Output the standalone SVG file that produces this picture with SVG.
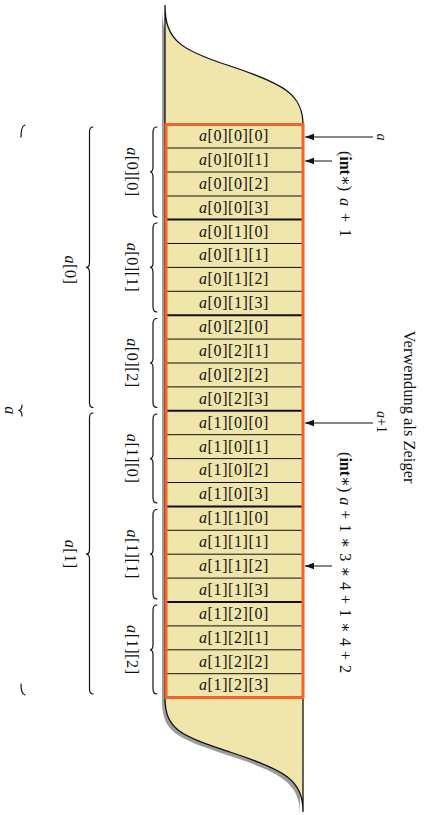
<svg xmlns="http://www.w3.org/2000/svg" width="429" height="815" viewBox="0 0 429 815">
<style>
text{font-family:"Liberation Serif","DejaVu Serif",serif;fill:#111}
.cell text{font-size:16px;letter-spacing:0.6px;text-anchor:middle}
.lbl{font-size:16px;letter-spacing:0.6px;text-anchor:middle}
.it{font-style:italic}
.bf{font-weight:bold}
.div{stroke:#111;stroke-width:1}
.gdiv{stroke:#111;stroke-width:2}
.brace{fill:none;stroke:#111;stroke-width:1.2;stroke-linecap:round}
.arr{stroke:#111;stroke-width:1}
</style>
<defs>
<marker id="ah" markerWidth="10" markerHeight="8" refX="9" refY="4" orient="auto" markerUnits="userSpaceOnUse">
<path d="M0,0.8 L9,4 L0,7.2 Z" fill="#111"/>
</marker>
<path id="body" d="M165,5 C165,40 180,50 230,66 C285,84 303,95 303,125 L303,812 C303,780 285,770 230,752 C180,735 165,730 165,697 Z"/>
</defs>
<g id="memory">
<use href="#body" transform="translate(-3,3)" fill="#9c9c9c"/>
<use href="#body" fill="#f0e5ab" stroke="#111" stroke-width="1.3"/>
</g>
<g id="cells">
<g class="cell" id="c0"><text x="234" y="141"><tspan class="it">a</tspan>[0][0][0]</text></g>
<g class="cell" id="c1"><text x="234" y="165"><tspan class="it">a</tspan>[0][0][1]</text></g>
<g class="cell" id="c2"><text x="234" y="189"><tspan class="it">a</tspan>[0][0][2]</text></g>
<g class="cell" id="c3"><text x="234" y="213"><tspan class="it">a</tspan>[0][0][3]</text></g>
<g class="cell" id="c4"><text x="234" y="237"><tspan class="it">a</tspan>[0][1][0]</text></g>
<g class="cell" id="c5"><text x="234" y="260"><tspan class="it">a</tspan>[0][1][1]</text></g>
<g class="cell" id="c6"><text x="234" y="284"><tspan class="it">a</tspan>[0][1][2]</text></g>
<g class="cell" id="c7"><text x="234" y="308"><tspan class="it">a</tspan>[0][1][3]</text></g>
<g class="cell" id="c8"><text x="234" y="332"><tspan class="it">a</tspan>[0][2][0]</text></g>
<g class="cell" id="c9"><text x="234" y="356"><tspan class="it">a</tspan>[0][2][1]</text></g>
<g class="cell" id="c10"><text x="234" y="380"><tspan class="it">a</tspan>[0][2][2]</text></g>
<g class="cell" id="c11"><text x="234" y="404"><tspan class="it">a</tspan>[0][2][3]</text></g>
<g class="cell" id="c12"><text x="234" y="428"><tspan class="it">a</tspan>[1][0][0]</text></g>
<g class="cell" id="c13"><text x="234" y="452"><tspan class="it">a</tspan>[1][0][1]</text></g>
<g class="cell" id="c14"><text x="234" y="475"><tspan class="it">a</tspan>[1][0][2]</text></g>
<g class="cell" id="c15"><text x="234" y="499"><tspan class="it">a</tspan>[1][0][3]</text></g>
<g class="cell" id="c16"><text x="234" y="523"><tspan class="it">a</tspan>[1][1][0]</text></g>
<g class="cell" id="c17"><text x="234" y="547"><tspan class="it">a</tspan>[1][1][1]</text></g>
<g class="cell" id="c18"><text x="234" y="571"><tspan class="it">a</tspan>[1][1][2]</text></g>
<g class="cell" id="c19"><text x="234" y="595"><tspan class="it">a</tspan>[1][1][3]</text></g>
<g class="cell" id="c20"><text x="234" y="619"><tspan class="it">a</tspan>[1][2][0]</text></g>
<g class="cell" id="c21"><text x="234" y="643"><tspan class="it">a</tspan>[1][2][1]</text></g>
<g class="cell" id="c22"><text x="234" y="667"><tspan class="it">a</tspan>[1][2][2]</text></g>
<g class="cell" id="c23"><text x="234" y="690"><tspan class="it">a</tspan>[1][2][3]</text></g>
</g>
<g id="dividers">
<line class="div" x1="166" y1="148" x2="302" y2="148"/>
<line class="div" x1="166" y1="172" x2="302" y2="172"/>
<line class="div" x1="166" y1="196" x2="302" y2="196"/>
<line class="gdiv" x1="166" y1="219.6" x2="302" y2="219.6"/>
<line class="div" x1="166" y1="243.5" x2="302" y2="243.5"/>
<line class="div" x1="166" y1="267.4" x2="302" y2="267.4"/>
<line class="div" x1="166" y1="291.3" x2="302" y2="291.3"/>
<line class="gdiv" x1="166" y1="315.2" x2="302" y2="315.2"/>
<line class="div" x1="166" y1="339.1" x2="302" y2="339.1"/>
<line class="div" x1="166" y1="363" x2="302" y2="363"/>
<line class="div" x1="166" y1="386.9" x2="302" y2="386.9"/>
<line class="gdiv" x1="166" y1="410.8" x2="302" y2="410.8" stroke-width="2.5"/>
<line class="div" x1="166" y1="434.7" x2="302" y2="434.7"/>
<line class="div" x1="166" y1="458.6" x2="302" y2="458.6"/>
<line class="div" x1="166" y1="482.5" x2="302" y2="482.5"/>
<line class="gdiv" x1="166" y1="506.4" x2="302" y2="506.4"/>
<line class="div" x1="166" y1="530.3" x2="302" y2="530.3"/>
<line class="div" x1="166" y1="554.2" x2="302" y2="554.2"/>
<line class="div" x1="166" y1="578.1" x2="302" y2="578.1"/>
<line class="gdiv" x1="166" y1="602" x2="302" y2="602"/>
<line class="div" x1="166" y1="625.9" x2="302" y2="625.9"/>
<line class="div" x1="166" y1="649.8" x2="302" y2="649.8"/>
<line class="div" x1="166" y1="673.7" x2="302" y2="673.7"/>
</g>
<g id="array-frame">
<rect x="166" y="124.5" width="137" height="573" fill="none" stroke="#f4642a" stroke-width="3"/>
</g>
<g id="braces">
<path class="brace" d="M157,127 Q153,127 153,132 L153,167 Q153,172 150,172 Q153,172 153,177 L153,212 Q153,217 157,217"/>
<path class="brace" d="M157,223 Q153,223 153,228 L153,262.4 Q153,267.4 150,267.4 Q153,267.4 153,272.4 L153,307 Q153,312 157,312"/>
<path class="brace" d="M157,318.5 Q153,318.5 153,323.5 L153,358 Q153,363 150,363 Q153,363 153,368 L153,402.5 Q153,407.5 157,407.5"/>
<path class="brace" d="M157,414 Q153,414 153,419 L153,453.6 Q153,458.6 150,458.6 Q153,458.6 153,463.6 L153,498 Q153,503 157,503"/>
<path class="brace" d="M157,509.5 Q153,509.5 153,514.5 L153,549.2 Q153,554.2 150,554.2 Q153,554.2 153,559.2 L153,594 Q153,599 157,599"/>
<path class="brace" d="M157,605 Q153,605 153,610 L153,644.8 Q153,649.8 150,649.8 Q153,649.8 153,654.8 L153,689 Q153,694 157,694"/>
<path class="brace" d="M93,127 Q89.5,127 89.5,132 L89.5,262.4 Q89.5,267.4 86,267.4 Q89.5,267.4 89.5,272.4 L89.5,402.5 Q89.5,407.5 93,407.5"/>
<path class="brace" d="M93,413 Q89.5,413 89.5,418 L89.5,549.2 Q89.5,554.2 86,554.2 Q89.5,554.2 89.5,559.2 L89.5,689 Q89.5,694 93,694"/>
<path class="brace" d="M25,125 Q21,126 21,137"/>
<path class="brace" d="M22,405 Q22,410 18.5,410.5 Q22,411 22,416"/>
<path class="brace" d="M21,684 Q21,694 25,695"/>
</g>
<g id="labels-left">
<text class="lbl" transform="translate(127,172) rotate(90)"><tspan class="it">a</tspan>[0][0]</text>
<text class="lbl" transform="translate(127,267.4) rotate(90)"><tspan class="it">a</tspan>[0][1]</text>
<text class="lbl" transform="translate(127,363) rotate(90)"><tspan class="it">a</tspan>[0][2]</text>
<text class="lbl" transform="translate(127,458.6) rotate(90)"><tspan class="it">a</tspan>[1][0]</text>
<text class="lbl" transform="translate(127,554.2) rotate(90)"><tspan class="it">a</tspan>[1][1]</text>
<text class="lbl" transform="translate(127,649.8) rotate(90)"><tspan class="it">a</tspan>[1][2]</text>
<text class="lbl" transform="translate(65,270) rotate(90)"><tspan class="it">a</tspan>[0]</text>
<text class="lbl" transform="translate(65,554.2) rotate(90)"><tspan class="it">a</tspan>[1]</text>
<text class="lbl" transform="translate(5,410.5) rotate(90)"><tspan class="it">a</tspan></text>
</g>
<g id="connectors">
<line class="arr" x1="373" y1="137" x2="305" y2="137" marker-end="url(#ah)"/>
<line class="arr" x1="332" y1="161" x2="305" y2="161" marker-end="url(#ah)"/>
<line class="arr" x1="373" y1="423" x2="305" y2="423" marker-end="url(#ah)"/>
<line class="arr" x1="332" y1="566" x2="305" y2="566" marker-end="url(#ah)"/>
</g>
<g id="labels-right">
<text transform="translate(377,137) rotate(90)" font-size="14" text-anchor="middle" class="it">a</text>
<text transform="translate(377,422) rotate(90)" font-size="14" text-anchor="middle"><tspan class="it">a</tspan>+1</text>
<text transform="translate(340,194) rotate(90)" font-size="16" text-anchor="middle" word-spacing="3">(<tspan class="bf">int</tspan>∗) <tspan class="it">a</tspan> + 1</text>
<text transform="translate(340,562.5) rotate(90)" font-size="16" text-anchor="middle" word-spacing="1">(<tspan class="bf">int</tspan>∗) <tspan class="it">a</tspan> + 1 ∗ 3 ∗ 4 + 1 ∗ 4 + 2</text>
<text transform="translate(404,407) rotate(90)" font-size="16.5" text-anchor="middle">Verwendung als Zeiger</text>
</g>
</svg>
